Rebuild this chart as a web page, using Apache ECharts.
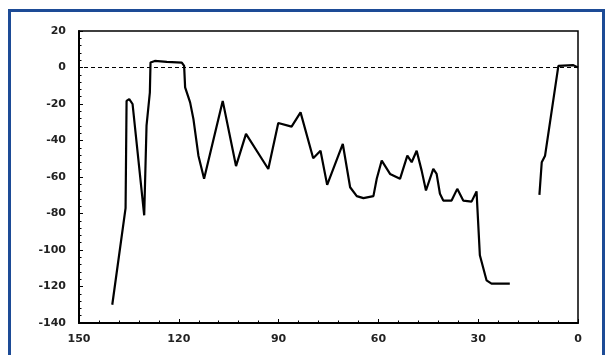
<!DOCTYPE html>
<html>
<head>
<meta charset="utf-8">
<script src="https://cdn.jsdelivr.net/npm/echarts@6/dist/echarts.min.js"></script>
<style>
  html, body { margin: 0; padding: 0; background: #fff; }
  #chart { width: 608px; height: 355px; }
</style>
</head>
<body>
<div id="chart"></div>
<script>
// Segment 1 (x from 140 down to ~20)
var seg1X = [140, 136, 135.7, 134.9, 133.9, 130.4, 129.7, 128.7, 128.5, 127.2, 123.6, 119.1, 118.4, 118.1, 116.6, 115.6, 114.1, 112.4,
             106.8, 102.8, 99.8, 93.1, 90.1, 86.1, 83.4, 79.6, 77.4, 75.4, 70.7, 68.5, 66.5, 64.5, 61.5, 60.5, 59, 56.5, 53.5,
             51.3, 50, 48.5, 47, 45.7, 43.5, 42.5, 41.5, 40.5, 38, 36.3, 34.5, 32, 30.5, 29.5, 27.5, 26, 20.5];
var seg1Y = [-130, -77, -18.3, -17.3, -20, -81, -31.9, -13.7, 2.7, 3.6, 3.1, 2.7, 0.9, -10.9, -19.1, -28.3, -48.3, -61,
             -18.3, -54, -36.4, -55.6, -30.4, -32.4, -24.6, -49.7, -45.6, -64.3, -41.9, -65.6, -70.5, -71.6, -70.5, -61, -51, -58.3, -61,
             -48.3, -51.9, -45.6, -56.5, -67.4, -55.6, -58.3, -69.2, -72.9, -72.9, -66.5, -72.9, -73.5, -67.9, -102.9, -116.6, -118.4, -118.4];
// Segment 2 (x from ~12 to 0)
var seg2X = [11.6, 10.9, 9.9, 5.9, 5.4, 1.4, 0];
var seg2Y = [-69.8, -51.9, -48.3, 0.9, 1.8, 1.3, 0];

var xTicks = [150, 120, 90, 60, 30, 0];
var yTicks = [20, 0, -20, -40, -60, -80, -100, -120, -140];

function pairs(xs, ys) { return xs.map(function (x, i) { return [x, ys[i]]; }); }

var labelFont = { color: '#222', fontWeight: 'bold', fontSize: 11, fontFamily: 'DejaVu Sans, Verdana, sans-serif' };
var chart = echarts.init(document.getElementById('chart'), null, { renderer: 'canvas' });
chart.setOption({
  animation: false,
  backgroundColor: '#ffffff',
  graphic: [{
    type: 'rect', left: 7, top: 8, z: 100, silent: true,
    shape: { width: 594, height: 354 },
    style: { fill: 'none', stroke: '#1d4b96', lineWidth: 3 }
  }],
  grid: { left: 79, right: 30, top: 31, bottom: 32, show: true, borderColor: '#000', borderWidth: 1.5 },
  xAxis: {
    type: 'value', inverse: true, min: 0, max: 150, interval: 30,
    axisLine: { show: true, onZero: false, lineStyle: { color: '#000', width: 2 } },
    axisTick: { show: true, inside: true, length: 4, lineStyle: { color: '#000', width: 1 } },
    minorTick: { show: true, splitNumber: 5, length: 2.5, lineStyle: { color: '#000', width: 1 } },
    splitLine: { show: false },
    axisLabel: Object.assign({ margin: 11 }, labelFont)
  },
  yAxis: {
    type: 'value', min: -140, max: 20, interval: 20,
    axisLine: { show: true, onZero: false, lineStyle: { color: '#000', width: 2 } },
    axisTick: { show: true, inside: true, length: 4, lineStyle: { color: '#000', width: 1 } },
    minorTick: { show: true, splitNumber: 5, length: 2.5, lineStyle: { color: '#000', width: 1 } },
    splitLine: { show: false },
    axisLabel: Object.assign({ margin: 13 }, labelFont)
  },
  series: [{
    type: 'line', data: pairs(seg1X, seg1Y), showSymbol: false, symbol: 'none',
    lineStyle: { color: '#000', width: 2.2 },
    markLine: {
      silent: true, symbol: 'none', label: { show: false },
      lineStyle: { color: '#000', type: [4, 3], width: 1 },
      data: [{ yAxis: 0 }]
    }
  }, {
    type: 'line', data: pairs(seg2X, seg2Y), showSymbol: false, symbol: 'none',
    lineStyle: { color: '#000', width: 2.2 }
  }]
});
</script>
</body>
</html>
